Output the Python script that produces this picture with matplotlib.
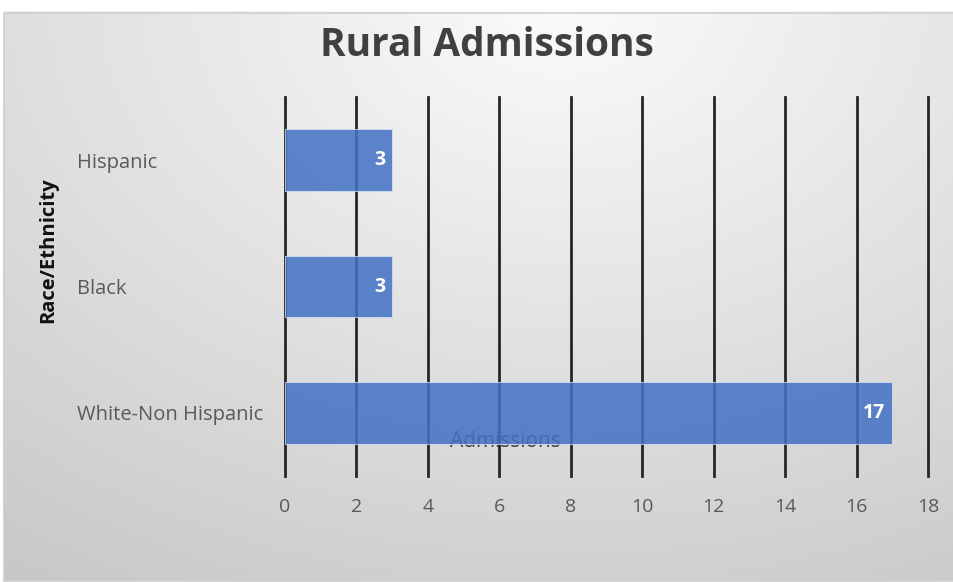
import numpy as np
import matplotlib
matplotlib.use('Agg')
import matplotlib.pyplot as plt
from matplotlib.transforms import blended_transform_factory
from matplotlib.patches import Rectangle

categories = ['White-Non Hispanic', 'Black', 'Hispanic']
admissions = [17, 3, 3]
xticks = [0, 2, 4, 6, 8, 10, 12, 14, 16, 18]

W, H = 954, 582
fig = plt.figure(figsize=(W / 100, H / 100), dpi=100)
fig.patch.set_facecolor('white')

# gradient background of the chart frame (light at top middle)
bg = fig.add_axes([0, 0, 1, 1], zorder=-5)
yy, xx = np.mgrid[0:H, 0:W]
d = np.sqrt(((xx - 560.0) * 0.7) ** 2 + (yy - 10.0) ** 2)
shade = np.clip(251 - 0.075 * d, 180, 255) / 255.0
img = np.dstack([shade, shade, shade])
img[:13, :, :] = 1.0
img[:, :4, :] = 1.0
bg.imshow(img, aspect='auto', interpolation='bilinear')
bg.add_patch(Rectangle((4, 13), W, H - 14, fill=False, edgecolor='#cfcfcf', lw=1.2))
bg.set_xlim(0, W)
bg.set_ylim(H, 0)
bg.axis('off')

ax = fig.add_axes([285 / W, 1 - 476 / H, 643 / W, 379 / H])
ax.patch.set_alpha(0)
y = np.arange(len(categories))
bars = ax.barh(y, admissions, height=0.49, color='#4472C4', alpha=0.86,
               edgecolor='#dde6f5', linewidth=0.6, zorder=3)
ax.set_xlim(0, 18)
ax.set_ylim(-0.5, 2.5)
ax.set_xticks(xticks)
ax.set_xticklabels([str(t) for t in xticks], color='#595959', fontsize=14,
                   family='Open Sans')
ax.tick_params(axis='x', length=0, pad=16)
ax.set_yticks([])
for s in ax.spines.values():
    s.set_visible(False)
ax.grid(axis='x', color='#262626', linewidth=2, zorder=1)
for gl in ax.get_xgridlines():
    gl.set_clip_on(False)
ax.set_axisbelow(True)

for b, v in zip(bars, admissions):
    ax.text(v - 0.2, b.get_y() + b.get_height() / 2, str(v), ha='right',
            va='center', color='white', fontsize=14, fontweight='bold',
            family='Open Sans', zorder=5)

tr = blended_transform_factory(fig.transFigure, ax.transData)
for i, c in enumerate(categories):
    ax.text(77 / W, i, c, transform=tr, ha='left', va='center_baseline',
            color='#595959', fontsize=14.5, family='Open Sans')

ax.text(0.342, 0.092, 'Admissions', transform=ax.transAxes, ha='center',
        va='center', color='#404040', fontsize=15, family='Open Sans', zorder=2)

fig.text(48 / W, 1 - 250 / H, 'Race/Ethnicity', rotation=90, ha='center',
         va='center', fontsize=14.5, fontweight='bold', color='#111111',
         family='Open Sans')
fig.text(487 / W, 1 - 45 / H, 'Rural Admissions', ha='center', va='center',
         fontsize=28, fontweight='bold', color='#404040', family='Open Sans')

fig.savefig('out.png', dpi=100)
